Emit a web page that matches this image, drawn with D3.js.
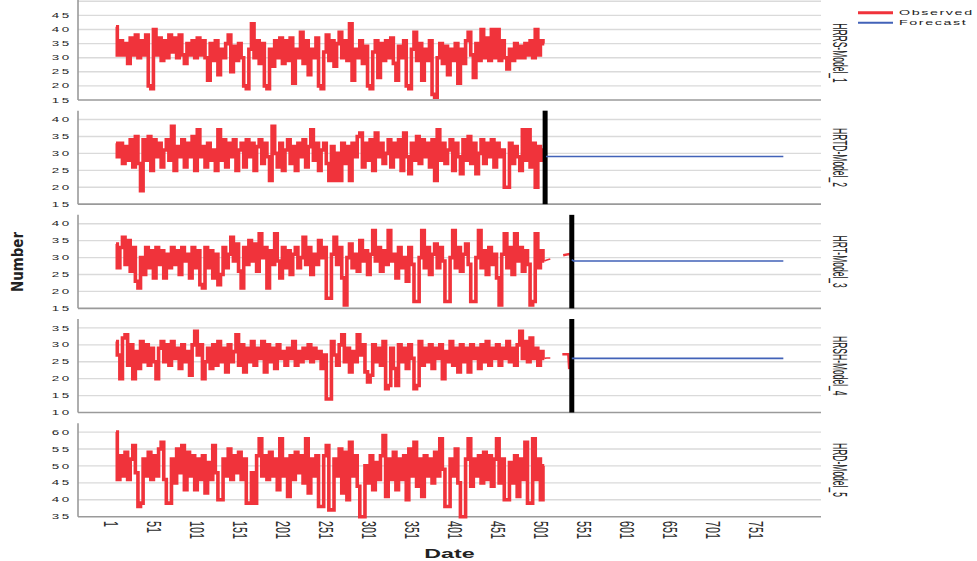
<!DOCTYPE html>
<html>
<head>
<meta charset="utf-8">
<script src="https://cdn.jsdelivr.net/npm/d3@7"></script>
<style>
  html, body { margin: 0; padding: 0; background: #fff; }
  svg { display: block; font-family: "Liberation Sans", Arial, sans-serif; }
</style>
</head>
<body>
<div id="chart"></div>
<script>
// panel names (right side) and y ticks of each panel
var panelNames = ['HRRS-Model_1', 'HRTD-Model_2', 'HRT-Model_3', 'HRSH-Model_4', 'HRD-Model_5']
var yTicks1 = [15, 20, 25, 30, 35, 40, 45]
var yTicks2 = [15, 20, 25, 30, 35, 40]
var yTicks3 = [15, 20, 25, 30, 35, 40]
var yTicks4 = [10, 15, 20, 25, 30, 35]
var yTicks5 = [35, 40, 45, 50, 55, 60]
var xTickLabels = [1, 51, 101, 151, 201, 251, 301, 351, 401, 451, 501, 551, 601, 651, 701, 751]

// observed series, read every 3rd date (1, 4, 7 ... 499)
var obsIdx = d3.range(1, 500, 3)
var obs1 = [41, 31, 36, 31, 35, 28, 37, 31, 38, 30,
  36, 31, 38, 20, 19, 40, 31, 37, 29, 36,
  30, 38, 32, 37, 30, 38, 31, 28, 35, 31,
  36, 30, 37, 31, 36, 30, 22, 35, 29, 36,
  24, 33, 30, 35, 38, 25, 34, 29, 35, 30,
  20, 19, 33, 42, 30, 36, 28, 35, 20, 19,
  33, 27, 36, 30, 37, 28, 36, 29, 37, 21,
  33, 30, 39, 28, 36, 24, 33, 30, 37, 20,
  19, 32, 38, 29, 36, 27, 35, 39, 30, 36,
  29, 42, 22, 33, 30, 36, 28, 34, 20, 19,
  32, 36, 23, 35, 29, 36, 30, 37, 28, 22,
  34, 30, 36, 20, 19, 33, 39, 29, 35, 22,
  33, 29, 36, 17, 16, 30, 35, 28, 34, 24,
  33, 29, 35, 21, 33, 28, 36, 39, 31, 23,
  35, 29, 40, 30, 37, 29, 40, 30, 40, 29,
  36, 30, 26, 33, 29, 35, 30, 34, 30, 35,
  31, 36, 30, 40, 31, 36, 35]
var obs2 = [33, 29, 33, 27, 32, 28, 34, 26, 35, 27,
  19, 34, 28, 35, 25, 34, 29, 33, 26, 31,
  34, 28, 38, 25, 32, 29, 34, 26, 33, 29,
  35, 25, 37, 29, 32, 26, 33, 28, 31, 25,
  37, 28, 34, 26, 33, 29, 34, 25, 31, 33,
  26, 34, 29, 33, 25, 32, 34, 27, 33, 29,
  22, 38, 30, 26, 33, 25, 31, 34, 27, 32,
  25, 33, 29, 34, 26, 32, 37, 28, 33, 25,
  31, 33, 27, 22, 32, 22, 30, 22, 33, 27,
  32, 22, 33, 29, 35, 36, 26, 33, 28, 34,
  25, 36, 29, 33, 27, 30, 34, 26, 33, 29,
  34, 25, 36, 29, 24, 33, 28, 35, 27, 34,
  29, 33, 26, 34, 22, 37, 28, 33, 27, 31,
  34, 25, 33, 29, 24, 34, 28, 35, 27, 33,
  24, 30, 34, 27, 33, 29, 34, 26, 33, 29,
  31, 20, 20, 33, 27, 32, 29, 25, 37, 28,
  37, 26, 33, 20, 32, 28, 31]
var obs3 = [34, 27, 33, 36, 28, 35, 26, 33, 23, 21,
  30, 25, 33, 27, 32, 24, 33, 28, 32, 24,
  31, 27, 33, 28, 32, 25, 33, 29, 31, 24,
  33, 27, 32, 22, 21, 33, 27, 32, 24, 31,
  22, 25, 33, 27, 31, 36, 29, 34, 26, 21,
  33, 28, 35, 29, 34, 26, 37, 30, 33, 21,
  32, 28, 37, 29, 24, 33, 27, 32, 25, 31,
  33, 27, 30, 36, 28, 33, 25, 31, 28, 35,
  30, 33, 18, 18, 31, 36, 28, 33, 24, 16,
  30, 34, 27, 31, 26, 35, 29, 32, 25, 31,
  38, 29, 33, 26, 32, 28, 38, 29, 31, 24,
  33, 27, 30, 23, 33, 28, 17, 17, 30, 38,
  27, 33, 25, 31, 34, 27, 33, 29, 17, 17,
  30, 38, 27, 33, 26, 31, 34, 28, 17, 17,
  30, 38, 27, 32, 25, 33, 28, 31, 24, 16,
  31, 37, 27, 33, 25, 37, 29, 33, 26, 32,
  28, 16, 17, 37, 27, 32, 29]
var obs4 = [31, 27, 20, 32, 33, 24, 30, 20, 28, 23,
  31, 25, 30, 24, 29, 25, 20, 29, 31, 25,
  30, 24, 31, 26, 29, 23, 30, 25, 28, 21,
  30, 34, 27, 30, 20, 25, 29, 23, 30, 24,
  31, 25, 29, 22, 30, 25, 28, 33, 24, 30,
  22, 29, 25, 31, 24, 29, 26, 31, 22, 30,
  25, 29, 23, 30, 26, 28, 24, 29, 26, 31,
  24, 28, 25, 29, 26, 30, 25, 29, 26, 28,
  23, 27, 14, 14, 31, 27, 24, 30, 33, 25,
  29, 22, 28, 25, 33, 27, 30, 22, 19, 21,
  30, 25, 29, 24, 31, 17, 18, 29, 23, 18,
  30, 25, 29, 23, 30, 26, 17, 18, 31, 24,
  29, 25, 30, 23, 29, 26, 30, 20, 28, 25,
  31, 24, 29, 22, 30, 25, 29, 22, 30, 26,
  29, 23, 30, 25, 31, 24, 29, 26, 30, 24,
  29, 26, 31, 25, 29, 24, 30, 34, 26, 31,
  25, 32, 26, 29, 24, 28, 26]
var obs5 = [60, 46, 53, 47, 54, 46, 52, 56, 48, 38,
  39, 52, 47, 54, 46, 53, 47, 55, 57, 46,
  39, 39, 52, 45, 55, 48, 56, 43, 54, 47,
  53, 43, 52, 46, 53, 42, 51, 46, 56, 48,
  40, 40, 52, 47, 55, 46, 53, 48, 54, 46,
  52, 39, 39, 48, 39, 53, 58, 47, 53, 46,
  54, 47, 52, 43, 58, 47, 52, 41, 53, 46,
  54, 48, 53, 45, 58, 42, 52, 47, 53, 38,
  38, 53, 56, 37, 37, 52, 47, 55, 42, 54,
  40, 57, 47, 53, 44, 35, 35, 50, 45, 53,
  43, 51, 46, 53, 59, 41, 52, 46, 54, 43,
  52, 46, 53, 40, 55, 47, 57, 44, 52, 41,
  53, 47, 52, 45, 54, 47, 58, 49, 38, 38,
  52, 47, 55, 45, 35, 35, 52, 58, 44, 52,
  47, 53, 45, 54, 46, 53, 44, 52, 58, 45,
  52, 40, 40, 51, 45, 53, 41, 52, 46, 57,
  39, 39, 58, 46, 52, 40, 50]

// short observed pieces after the main run (panels 3 and 4)
var tailIdx = [499, 502, 506]
var tail3 = [29, 29.3, 29.6]
var tail4 = [26, 26.1, 26.1]
var lateIdx3 = [521, 529, 530]
var late3 = [30.7, 31.1, 29.9]
var lateIdx4 = [520, 527, 528]
var late4 = [27.2, 27.2, 22.8]

// forecast lines and the cut (black bar) positions
var fcIdx2 = [501, 777]
var fc2 = [29.1, 29.1]
var fcIdx3 = [531, 533, 777]
var fc3 = [29.4, 29.0, 29.0]
var fcIdx4 = [531, 777]
var fc4 = [26.0, 26.0]
var cutAt = [null, 500, 531, 531, null]

var legendNames = ['Observed', 'Forecast']

var RED = '#f0333b'
var BLUE = '#4262b8'
var SX = 1.86 // picture is stretched sideways, horizontal text follows it

var W = 977
var H = 561
var svg = d3.select('#chart').append('svg').attr('width', W).attr('height', H)

var x = d3.scaleLinear().domain([-43.2, 820.8]).range([78, 821])

var panels = [
  { ticks: yTicks1, grid: yTicks1.concat([50]), obs: obs1, fcIdx: null, fc: null },
  { ticks: yTicks2, grid: yTicks2, obs: obs2, fcIdx: fcIdx2, fc: fc2 },
  { ticks: yTicks3, grid: yTicks3, obs: obs3, fcIdx: fcIdx3, fc: fc3, tail: tail3, lateIdx: lateIdx3, late: late3 },
  { ticks: yTicks4, grid: yTicks4, obs: obs4, fcIdx: fcIdx4, fc: fc4, tail: tail4, lateIdx: lateIdx4, late: late4 },
  { ticks: yTicks5, grid: yTicks5, obs: obs5, fcIdx: null, fc: null }
]

panels.forEach(function (p, k) {
  var bottom = 100 + k * 104.17
  var top = k === 0 ? 0 : bottom - 93.5
  var lo = p.ticks[0]
  var hi = p.ticks[p.ticks.length - 1]
  var y = d3.scaleLinear().domain([lo, hi]).range([bottom, bottom - 84.6])
  var g = svg.append('g')

  // gridlines
  g.selectAll('line.grid')
    .data(p.grid.filter(function (t) { return t !== lo }))
    .enter().append('line')
    .attr('class', 'grid')
    .attr('x1', 78).attr('x2', 821)
    .attr('y1', function (d) { return y(d) }).attr('y2', function (d) { return y(d) })
    .attr('stroke', '#dadada').attr('stroke-width', 1.4)

  // axis frame
  g.append('line').attr('x1', 78).attr('x2', 821).attr('y1', bottom).attr('y2', bottom)
    .attr('stroke', '#9a9a9a').attr('stroke-width', 1.6)
  g.append('line').attr('x1', 78).attr('x2', 78).attr('y1', top).attr('y2', bottom)
    .attr('stroke', '#9a9a9a').attr('stroke-width', 1.6)

  // y tick labels
  g.selectAll('text.yt')
    .data(p.ticks)
    .enter().append('text')
    .attr('class', 'yt')
    .attr('transform', function (d) { return 'translate(71.5,' + y(d) + ') scale(' + SX + ',1)' })
    .attr('dy', '0.36em')
    .attr('text-anchor', 'end')
    .attr('font-size', 7.2)
    .attr('letter-spacing', 1.3)
    .attr('fill', '#1e1e1e')
    .text(function (d) { return d })

  var line = d3.line()
    .x(function (d) { return x(d[0]) })
    .y(function (d) { return y(d[1]) })
  var stepLine = d3.line()
    .x(function (d) { return x(d[0]) })
    .y(function (d) { return y(d[1]) })
    .curve(d3.curveStep)

  var obsPts = obsIdx.map(function (i, n) { return [i, p.obs[n]] })
  g.append('path').datum(obsPts)
    .attr('d', stepLine)
    .attr('fill', 'none').attr('stroke', RED).attr('stroke-width', 3.6)
    .attr('stroke-linejoin', 'miter')

  if (p.tail) {
    g.append('path').datum(tailIdx.map(function (i, n) { return [i, p.tail[n]] }))
      .attr('d', line).attr('fill', 'none').attr('stroke', RED).attr('stroke-width', 1.6)
    g.append('path').datum(p.lateIdx.map(function (i, n) { return [i, p.late[n]] }))
      .attr('d', line).attr('fill', 'none').attr('stroke', RED).attr('stroke-width', 2.5)
  }

  if (cutAt[k] !== null) {
    g.append('line')
      .attr('x1', x(cutAt[k])).attr('x2', x(cutAt[k]))
      .attr('y1', bottom - 93.5).attr('y2', bottom)
      .attr('stroke', '#000').attr('stroke-width', 5)
  }

  if (p.fcIdx) {
    g.append('path').datum(p.fcIdx.map(function (i, n) { return [i, p.fc[n]] }))
      .attr('d', line)
      .attr('fill', 'none').attr('stroke', BLUE).attr('stroke-width', 1.6)
  }

  // panel name on the right
  var cy = k === 0 ? 53 : bottom - 46.7
  g.append('text')
    .attr('transform', 'translate(832.7,' + cy + ') rotate(90) scale(1,2.3)')
    .attr('text-anchor', 'middle')
    .attr('font-size', 8.5)
    .attr('fill', '#222')
    .text(panelNames[k])
})

// x axis tick labels under the last panel
svg.selectAll('text.xt')
  .data(xTickLabels)
  .enter().append('text')
  .attr('class', 'xt')
  .attr('transform', function (d) { return 'translate(' + (x(d) - 5) + ',521) scale(' + SX + ',1) rotate(90)' })
  .attr('dy', '0.35em')
  .attr('font-size', 10.8)
  .attr('fill', '#2a2a2a')
  .text(function (d) { return d })

// axis titles
svg.append('text')
  .attr('transform', 'translate(449.5,558) scale(' + SX + ',1)')
  .attr('text-anchor', 'middle')
  .attr('font-size', 12.5)
  .attr('font-weight', 'bold')
  .attr('fill', '#222')
  .text('Date')

svg.append('text')
  .attr('transform', 'translate(22.7,262) rotate(-90)')
  .attr('text-anchor', 'middle')
  .attr('font-family', '"Liberation Sans Narrow", "DejaVu Sans Condensed", sans-serif')
  .attr('font-size', 16)
  .attr('font-weight', 'bold')
  .attr('textLength', 60)
  .attr('lengthAdjust', 'spacingAndGlyphs')
  .attr('fill', '#222')
  .text('Number')

// legend
var legend = svg.append('g')
legendNames.forEach(function (name, n) {
  var ly = 12.7 + n * 10
  legend.append('line')
    .attr('x1', 858).attr('x2', 893).attr('y1', ly).attr('y2', ly)
    .attr('stroke', n === 0 ? RED : BLUE).attr('stroke-width', n === 0 ? 3 : 2)
  legend.append('text')
    .attr('transform', 'translate(899,' + ly + ') scale(' + SX + ',1)')
    .attr('dy', '0.36em')
    .attr('font-size', 7.7)
    .attr('letter-spacing', 0.85)
    .attr('fill', '#222')
    .text(name)
})
</script>
</body>
</html>
